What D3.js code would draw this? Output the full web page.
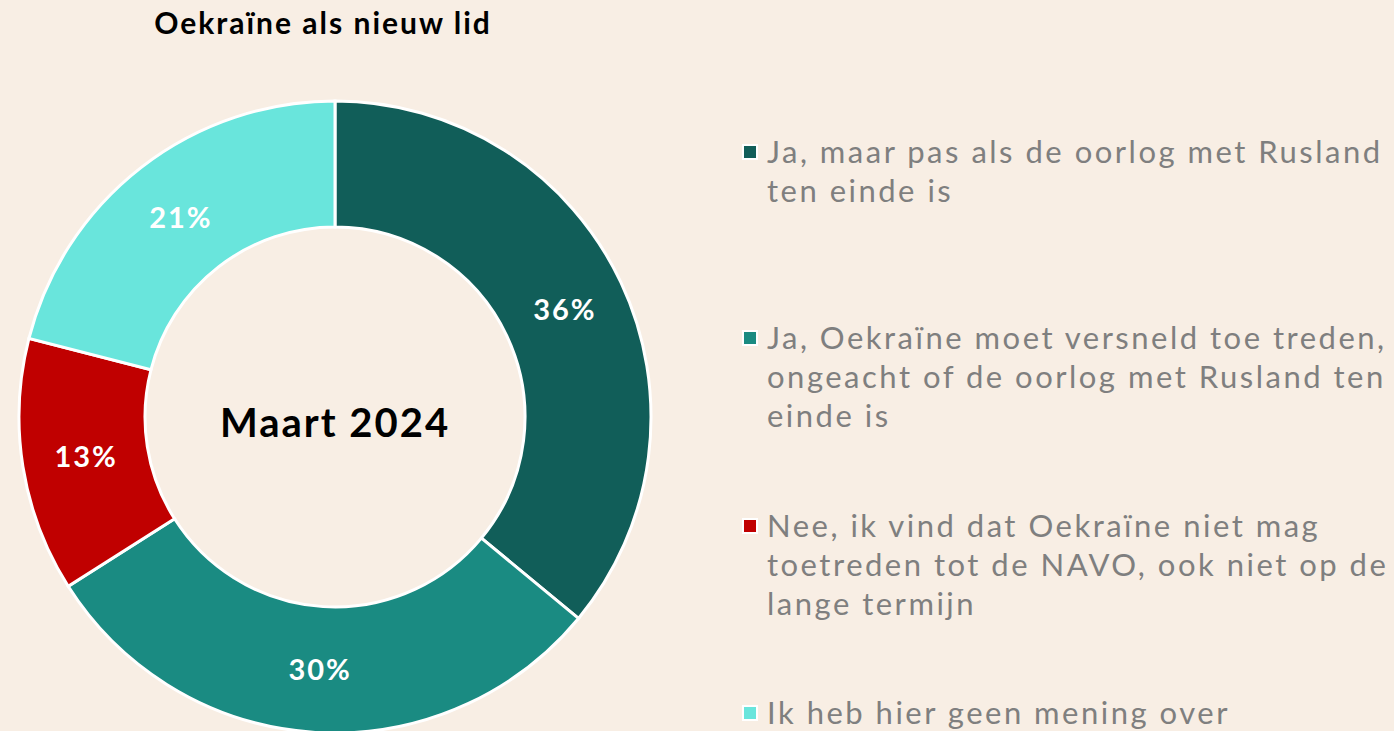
<!DOCTYPE html>
<html>
<head>
<meta charset="utf-8">
<script src="https://cdn.jsdelivr.net/npm/d3@7"></script>
<style>
  html, body { margin: 0; padding: 0; background: #f8eee4; }
  svg { display: block; }
</style>
</head>
<body>
<svg class="chart"></svg>
<script>
const title = 'Oekraïne als nieuw lid';
const centerLabel = 'Maart 2024';
const categories = [
  'Ja, maar pas als de oorlog met Rusland ten einde is',
  'Ja, Oekraïne moet versneld toe treden, ongeacht of de oorlog met Rusland ten einde is',
  'Nee, ik vind dat Oekraïne niet mag toetreden tot de NAVO, ook niet op de lange termijn',
  'Ik heb hier geen mening over'
];
const legendLines = [
  ['Ja, maar pas als de oorlog met Rusland', 'ten einde is'],
  ['Ja, Oekraïne moet versneld toe treden,', 'ongeacht of de oorlog met Rusland ten', 'einde is'],
  ['Nee, ik vind dat Oekraïne niet mag', 'toetreden tot de NAVO, ook niet op de', 'lange termijn'],
  ['Ik heb hier geen mening over']
];
const values = [36, 30, 13, 21];
const colors = ['#115e59', '#1a8b82', '#c00000', '#69e5dc'];

const [width, height] = [1394, 731];
const svg = d3.select('.chart').attr('width', width).attr('height', height);
const font = 'Lato, "Open Sans", sans-serif';

const data = categories.map((name, i) => ({ name, value: values[i], color: colors[i], lines: legendLines[i] }));

// donut
const [cx, cy, outer, inner] = [335, 417, 316, 190];
const pie = d3.pie().sort(null).value(d => d.value);
const arc = d3.arc().innerRadius(inner).outerRadius(outer);
const labelArc = d3.arc().innerRadius((inner + outer) / 2).outerRadius((inner + outer) / 2);

const g = svg.append('g').attr('transform', `translate(${cx},${cy})`);
const arcs = pie(data);
g.selectAll('path')
  .data(arcs)
  .enter()
  .append('path')
  .attr('d', arc)
  .attr('fill', d => d.data.color)
  .attr('stroke', '#fff')
  .attr('stroke-width', 3);

g.selectAll('text.pct')
  .data(arcs)
  .enter()
  .append('text')
  .attr('class', 'pct')
  .attr('transform', d => `translate(${labelArc.centroid(d)})`)
  .attr('x', 1)
  .attr('text-anchor', 'middle')
  .attr('dy', '0.36em')
  .attr('fill', '#fff')
  .attr('font-family', font)
  .attr('font-weight', 700)
  .attr('font-size', 29)
  .attr('letter-spacing', 2)
  .text(d => `${d.data.value}%`);

g.append('text')
  .attr('text-anchor', 'middle')
  .attr('x', 0)
  .attr('y', 6)
  .attr('dy', '0.36em')
  .attr('font-family', font)
  .attr('font-weight', 700)
  .attr('font-size', 40)
  .attr('letter-spacing', 2)
  .attr('fill', '#000')
  .text(centerLabel);

svg.append('text')
  .attr('x', 323)
  .attr('y', 34)
  .attr('text-anchor', 'middle')
  .attr('font-family', font)
  .attr('font-weight', 700)
  .attr('font-size', 30)
  .attr('letter-spacing', 2)
  .attr('fill', '#000')
  .text(title);

// legend
const legendTop = [152, 338, 526, 713];
const lineH = 39;
const legend = svg.append('g')
  .selectAll('g')
  .data(data)
  .enter()
  .append('g')
  .attr('transform', (d, i) => `translate(743,${legendTop[i]})`);

legend.append('rect')
  .attr('x', 0)
  .attr('y', -7)
  .attr('width', 14)
  .attr('height', 14)
  .attr('fill', d => d.color)
  .attr('stroke', '#fff')
  .attr('stroke-width', 2);

legend.append('text')
  .attr('font-family', font)
  .attr('font-size', 31)
  .attr('letter-spacing', 2.5)
  .attr('fill', '#7f7f7f')
  .selectAll('tspan')
  .data(d => d.lines)
  .enter()
  .append('tspan')
  .attr('x', 24)
  .attr('y', (d, i) => i * lineH)
  .attr('dy', '0.36em')
  .text(d => d);
</script>
</body>
</html>
